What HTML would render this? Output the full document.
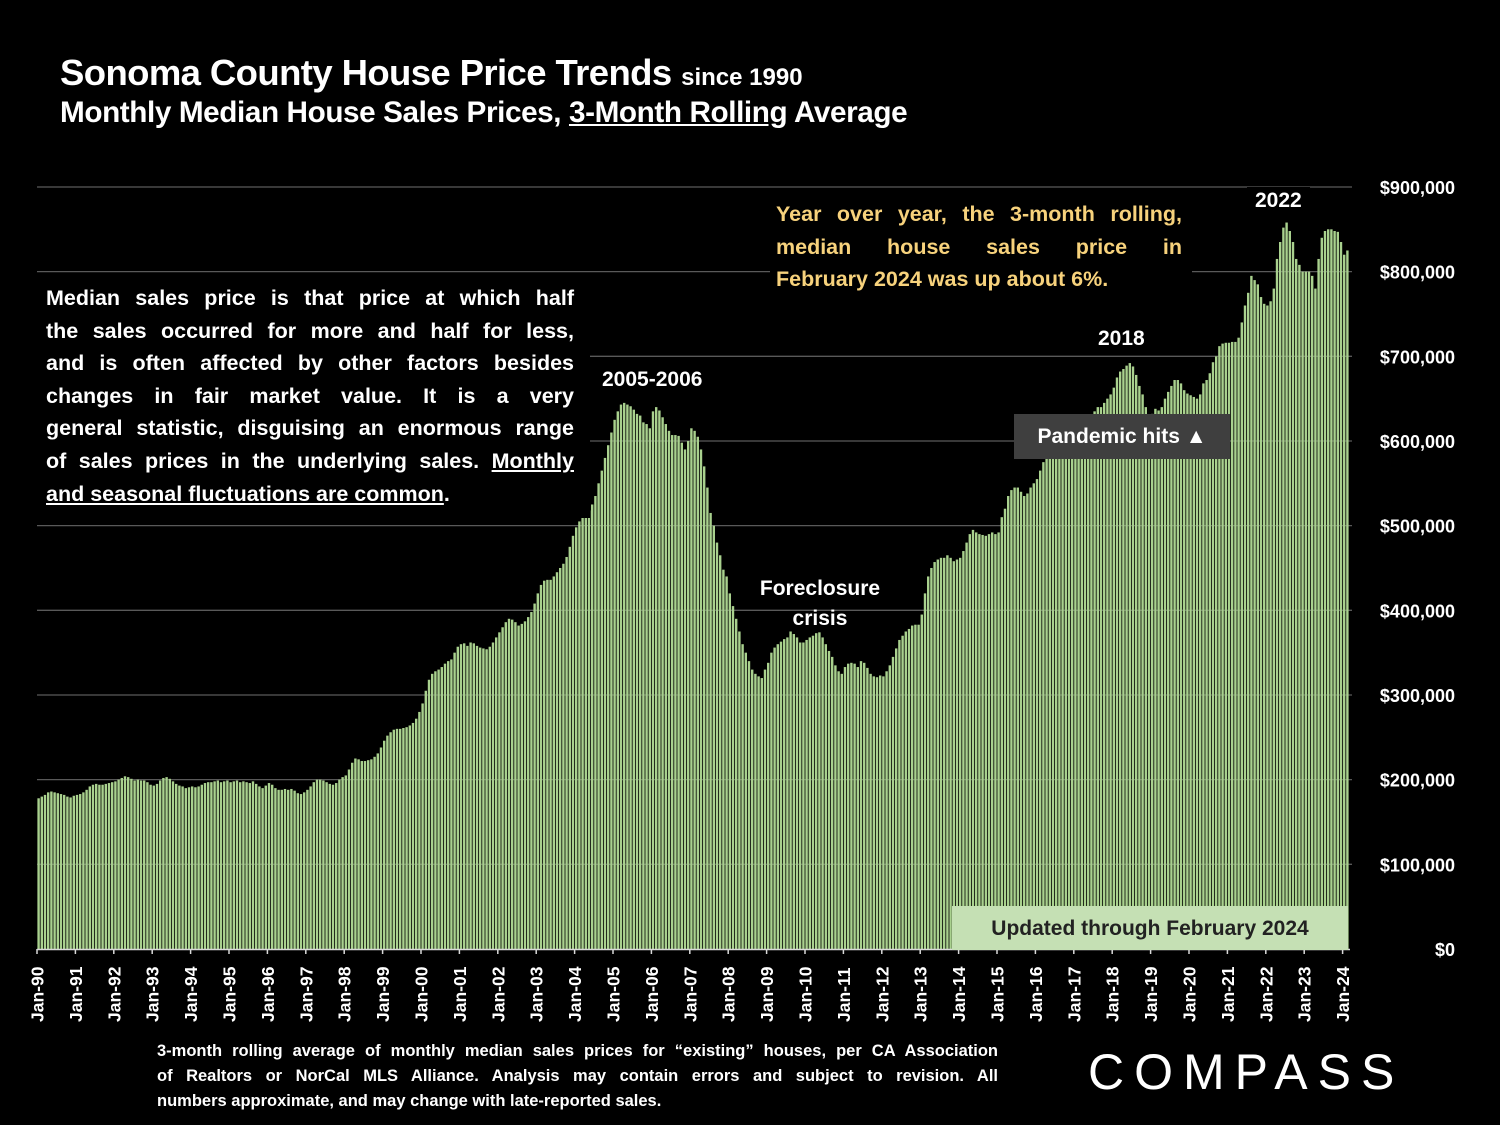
<!DOCTYPE html>
<html><head><meta charset="utf-8">
<style>
html,body{margin:0;padding:0;background:#000;}
body{width:1500px;height:1125px;position:relative;overflow:hidden;font-family:"Liberation Sans",sans-serif;color:#fff;}
.abs{position:absolute;}
.j{display:block;text-align:justify;text-align-last:justify;white-space:nowrap;}
.l{display:block;white-space:nowrap;}
</style></head>
<body>
<div class="abs" style="left:60px;top:52px;font-size:36.5px;font-weight:bold;letter-spacing:-0.6px;white-space:nowrap;">Sonoma County House Price Trends <span style="font-size:24px;letter-spacing:0">since 1990</span></div>
<div class="abs" style="left:60px;top:96px;font-size:29.7px;font-weight:bold;letter-spacing:-0.4px;white-space:nowrap;">Monthly Median House Sales Prices, <u>3-Month Rolling</u> Average</div>

<svg id="chart" class="abs" style="left:0;top:0" width="1500" height="1125"></svg>

<div class="abs" style="left:37px;top:280px;width:528px;padding:2px 16px 8px 9px;background:#000;font-size:21.5px;font-weight:bold;line-height:32.6px;">
<span class="j">Median sales price is that price at which half</span>
<span class="j">the sales occurred for more and half for less,</span>
<span class="j">and is often affected by other factors besides</span>
<span class="j">changes in fair market value. It is a very</span>
<span class="j">general statistic, disguising an enormous range</span>
<span class="j">of sales prices in the underlying sales. <u>Monthly</u></span>
<span class="l"><u>and seasonal fluctuations are common</u>.</span></div>
<div class="abs" style="left:770px;top:198px;width:406px;padding:0 10px 6px 6px;background:#000;color:#f7d27c;font-size:21.5px;font-weight:bold;line-height:32.6px;">
<span class="j">Year over year, the 3-month rolling,</span>
<span class="j">median house sales price in</span>
<span class="l">February 2024 was up about 6%.</span></div>
<div class="abs" style="left:592px;top:366px;padding:2px 10px;background:#000;font-size:21px;font-weight:bold;">2005-2006</div>
<div class="abs" style="left:750px;top:574px;width:140px;text-align:center;font-size:21px;font-weight:bold;line-height:30px;">Foreclosure crisis</div>
<div class="abs" style="left:1090px;top:325px;padding:2px 8px;background:#000;font-size:21px;font-weight:bold;">2018</div>
<div class="abs" style="left:1247px;top:187px;padding:2px 8px;background:#000;font-size:21px;font-weight:bold;">2022</div>
<div class="abs" style="left:1014px;top:414px;width:216px;height:45px;background:#3f3f3f;font-size:21px;font-weight:bold;line-height:45px;text-align:center;">Pandemic hits ▲</div>
<div class="abs" style="left:952px;top:906px;width:396px;height:44px;background:#c5e0b4;color:#222;font-size:21px;font-weight:bold;line-height:46px;text-align:center;">Updated through February 2024</div>
<div class="abs" style="left:157px;top:1039px;width:841px;font-size:16.5px;font-weight:bold;line-height:25px;">
<span class="j">3-month rolling average of monthly median sales prices for “existing” houses, per CA Association</span>
<span class="j">of Realtors or NorCal MLS Alliance. Analysis may contain errors and subject to revision. All</span>
<span class="l">numbers approximate, and may change with late-reported sales.</span></div>
<div class="abs" style="left:1088px;top:1043px;font-size:50px;letter-spacing:10px;white-space:nowrap;">COMPASS</div>

<script>
const years=[1990,1991,1992,1993,1994,1995,1996,1997,1998,1999,2000,2001,2002,2003,2004,2005,2006,2007,2008,2009,2010,2011,2012,2013,2014,2015,2016,2017,2018,2019,2020,2021,2022,2023,2024];
const prices=[
178,180,182,185,186,185,184,183,182,180,179,181,
182,183,185,188,192,194,195,194,194,195,196,197,
198,200,202,204,203,201,199,200,199,199,197,194,
193,195,199,202,203,201,198,195,193,192,190,191,
192,191,192,194,196,197,197,198,199,197,198,199,
197,198,199,197,198,197,196,198,195,192,190,193,
196,194,190,188,188,189,188,189,187,184,183,185,
188,192,197,200,200,199,197,195,194,196,200,203,
205,212,220,225,224,222,222,223,224,227,231,238,
246,252,256,259,260,260,261,262,264,267,272,280,
290,305,318,325,328,330,333,337,340,342,350,357,
360,361,358,362,361,358,356,355,354,357,362,368,
374,380,386,390,389,386,382,384,387,392,398,408,
420,430,435,436,436,440,445,450,455,463,475,488,
498,505,510,515,518,525,535,550,565,580,595,610,
625,635,643,645,643,641,637,632,630,622,620,615,
635,640,636,628,620,612,607,607,606,598,590,600,
615,612,605,590,570,545,515,500,480,465,448,440,
420,405,390,375,360,350,340,330,325,322,320,330,
338,350,356,360,363,366,368,375,372,368,362,362,
365,368,370,373,374,368,360,352,345,335,328,325,
333,337,338,337,333,340,338,332,325,322,321,323,
322,328,335,345,355,365,370,375,378,382,383,383,
395,420,440,450,457,460,462,462,465,462,458,460,
462,470,480,490,495,492,490,489,488,490,492,490,
492,510,520,535,542,545,545,540,535,538,545,550,
555,565,575,585,590,598,605,600,600,612,612,615,
612,618,620,625,622,630,635,640,640,645,650,655,
663,675,682,685,689,692,688,678,665,655,640,630,
632,638,636,640,650,658,665,672,672,668,660,656,
654,652,650,655,668,672,680,693,700,712,715,716,
716,717,717,722,740,760,775,795,790,785,770,762,
760,765,780,815,835,852,858,848,835,815,808,800,
800,800,795,780,815,840,848,850,850,848,847,835,
820,825];
const yTicks=[0,100,200,300,400,500,600,700,800,900];

const svg=document.getElementById('chart');
const NS='http://www.w3.org/2000/svg';
const X0=37,STEP=3.2,Y0=949,PXK=0.8467;
const xm=i=>X0+i*STEP;
const yv=v=>Y0-v*PXK;
function mk(t,a){const e=document.createElementNS(NS,t);for(const k in a)e.setAttribute(k,a[k]);svg.appendChild(e);return e;}

yTicks.forEach(v=>{
  if(v>0){const g=mk('line',{x1:37,x2:1352,y1:yv(v),y2:yv(v),stroke:'#595959','stroke-width':1.3});
  
  }
  const t=mk('text',{x:1455,y:yv(v)+7,'text-anchor':'end',fill:'#fff','font-size':18,'font-weight':'bold','font-family':'Liberation Sans, sans-serif'});
  t.textContent='$'+(v===0?'0':v+',000');
  
  
});
prices.forEach((p,i)=>{
  const r=mk('rect',{x:xm(i)+0.4,y:yv(p),width:2.4,height:p*PXK,fill:'#a9d18e'});
  
  
});
const ax=mk('line',{x1:37,x2:1350,y1:Y0+0.5,y2:Y0+0.5,stroke:'#d9d9d9','stroke-width':1.5});


years.forEach((yr,k)=>{
  const x=xm(k*12);
  const tk=mk('line',{x1:x,x2:x,y1:Y0,y2:Y0+5,stroke:'#d9d9d9','stroke-width':1.5});
  
  
  const t=mk('text',{x:0,y:0,transform:`translate(${x+6.5},1022) rotate(-90)`,fill:'#fff','font-size':17.5,'font-weight':'bold','font-family':'Liberation Sans, sans-serif'});
  t.textContent='Jan-'+String(yr).slice(2);
  
  
});
</script>
</body></html>
